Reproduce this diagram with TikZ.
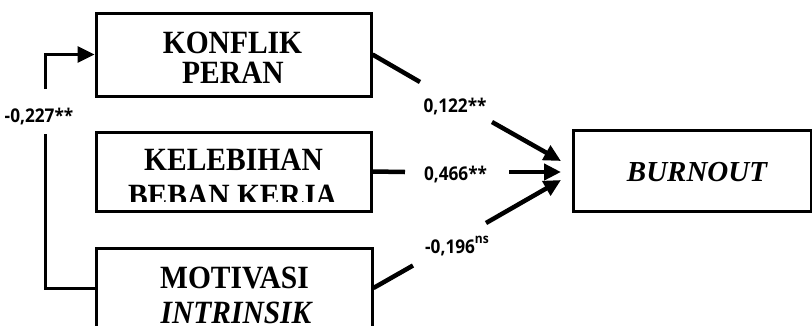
\documentclass[tikz,border=0pt]{standalone}
\usepackage{fontspec}
\setmainfont{Liberation Serif}
\newfontfamily\labfont{Open Sans}
\usetikzlibrary{arrows.meta}
\newcommand{\supx}[3]{\raisebox{#1}{\fontsize{#2}{#2}\selectfont #3}}
\newcommand{\tall}[1]{\scalebox{1}[1.1]{#1}}
\newcommand{\labt}[1]{\scalebox{1}[1.1]{#1}}
\begin{document}
\begin{tikzpicture}[x=1pt,y=-1pt,
  box/.style={draw,line width=3pt,inner sep=0pt,minimum width=#1},
  boxtxt/.style={anchor=base,inner sep=0pt,font=\fontsize{29.5}{30}\selectfont\bfseries},
  lab/.style={anchor=base,inner sep=0pt,font=\fontsize{17.2}{17.2}\selectfont\labfont\bfseries},
  path/.style={line width=4.5pt},
  brk/.style={line width=3pt},
  tip/.style={-{Triangle[length=17pt,width=16pt]}}]
\useasboundingbox (0,0) rectangle (812,325);
\clip (0,0) rectangle (812,325);
% boxes
\node[box=275pt,minimum height=83pt] (k) at (233.5,54.5) {};
\node[box=275pt,minimum height=79pt] (kb) at (233.5,171.5) {};
\node[box=276pt,minimum height=80pt] (m) at (234,288) {};
\node[box=238pt,minimum height=81pt] (b) at (692,170.5) {};
% box texts
\node[boxtxt] (k1) at (232.5,53) {\tall{KONFLIK}};
\node[boxtxt] (k2) at (233,83) {\tall{PERAN}};
\node[boxtxt] (kb1) at (233.5,170) {\tall{KELEBIHAN}};
\begin{scope}
\clip (98,133) rectangle (369,201);
\node[boxtxt] (kb2) at (232.5,206) {\tall{BEBAN KERJA}};
\end{scope}
\node[boxtxt] (m1) at (234.5,288) {\tall{MOTIVASI}};
\node[boxtxt] (m2) at (236,323) {\tall{\itshape INTRINSIK}};
\node[boxtxt,font=\fontsize{29}{29}\selectfont\bfseries] (b1) at (697,181) {\itshape BURNOUT};
% tips and gap ends
\coordinate (t1) at (561,161);
\coordinate (t2) at (561,172);
\coordinate (t3) at (561,180);
\coordinate (g1a) at (420,82);
\coordinate (g1b) at (492,122);
\coordinate (g2a) at (405,172);
\coordinate (g2b) at (509,172);
\coordinate (g3a) at (413,265.5);
\coordinate (g3b) at (486,223);
\coordinate (c1) at (45,54.5);
\coordinate (c1b) at (45,89);
\coordinate (c2) at (45,134);
\coordinate (c3) at (45,288);
% connectors
\draw[path] (k.east) -- (g1a);
\draw[path,tip] (g1b) -- (t1);
\draw[path] (kb.east) -- (g2a);
\draw[path,tip] (g2b) -- (t2);
\draw[path] (m.east) -- (g3a);
\draw[path,tip] (g3b) -- (t3);
\draw[brk,tip] (c1b) -- (c1) -- (k.west);
\draw[brk] (c2) -- (c3) -- (m.west);
% labels
\node[lab] (l0) at (39,122.5) {\labt{-0,227**}};
\node[lab] (l1) at (455,112) {\labt{0,122**}};
\node[lab] (l2) at (455.5,180) {\labt{0,466**}};
\node[lab] (l3) at (457,253) {\labt{-0,196\supx{9pt}{12}{ns}}};
\end{tikzpicture}
\end{document}
